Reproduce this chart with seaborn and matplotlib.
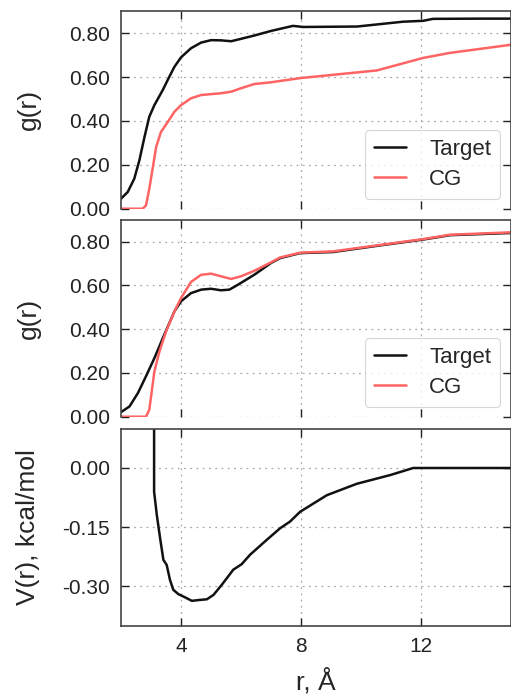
import numpy as np
import pandas as pd
import matplotlib
matplotlib.use("Agg")
import matplotlib.pyplot as plt
import seaborn as sns
from matplotlib.ticker import FormatStrFormatter

# ---- data ----
r_t1 = [2.0, 2.22, 2.44, 2.61, 2.78, 2.94, 3.11, 3.39, 3.61, 3.78, 4.0, 4.33, 4.67, 5.0, 5.33, 5.67,
        6.0, 6.44, 7.0, 7.73, 8.07, 9.87, 11.4, 12.07, 12.4, 14.07, 15.0]
g_t1 = [0.046, 0.076, 0.137, 0.221, 0.327, 0.419, 0.472, 0.541, 0.602, 0.647, 0.690, 0.731, 0.757, 0.768,
        0.767, 0.763, 0.774, 0.789, 0.810, 0.833, 0.828, 0.83, 0.852, 0.856, 0.865, 0.866, 0.866]
r_c1 = [2.0, 2.72, 2.83, 2.94, 3.06, 3.17, 3.33, 3.56, 3.78, 4.0, 4.33, 4.67, 5.33, 5.67, 6.0, 6.44,
        7.0, 7.97, 10.53, 12.07, 12.97, 15.0]
g_c1 = [0.0, 0.0, 0.015, 0.091, 0.19, 0.282, 0.35, 0.396, 0.442, 0.472, 0.503, 0.518, 0.526, 0.533, 0.549,
        0.568, 0.576, 0.595, 0.63, 0.687, 0.71, 0.747]

r_t2 = [2.0, 2.28, 2.56, 2.83, 3.11, 3.44, 3.78, 4.0, 4.33, 4.67, 5.0, 5.33, 5.61, 5.89, 6.44, 7.0,
        7.3, 7.97, 9.07, 10.73, 12.07, 12.97, 15.0]
g_t2 = [0.021, 0.047, 0.108, 0.185, 0.268, 0.375, 0.482, 0.528, 0.565, 0.581, 0.585, 0.578, 0.581, 0.603,
        0.649, 0.703, 0.725, 0.748, 0.753, 0.785, 0.81, 0.83, 0.84]
r_c2 = [2.0, 2.83, 2.94, 3.11, 3.28, 3.5, 3.78, 4.0, 4.33, 4.67, 5.0, 5.33, 5.67, 6.0, 6.44, 7.0,
        7.3, 7.97, 9.07, 10.73, 12.07, 12.97, 15.0]
g_c2 = [0.0, 0.0, 0.032, 0.207, 0.299, 0.39, 0.482, 0.543, 0.616, 0.649, 0.654, 0.642, 0.63, 0.642, 0.667,
        0.706, 0.728, 0.75, 0.756, 0.787, 0.812, 0.832, 0.843]

r_v = [3.1, 3.1, 3.19, 3.30, 3.41, 3.52, 3.63, 3.74, 3.91, 4.13, 4.36, 4.58, 4.86, 5.08, 5.36, 5.74,
       6.02, 6.3, 6.86, 7.3, 7.63, 7.97, 8.86, 9.86, 10.97, 11.74, 12.5, 13.5, 15.0]
v_v = [0.1, -0.060, -0.119, -0.178, -0.233, -0.246, -0.284, -0.309, -0.320, -0.328, -0.337, -0.335, -0.333,
       -0.322, -0.296, -0.258, -0.244, -0.220, -0.182, -0.153, -0.136, -0.111, -0.069, -0.04, -0.018, 0.0,
       0.0, 0.0, 0.0]

series_labels = ["Target", "CG"]
x_ticks = [4, 8, 12]
g_ticks = [0.0, 0.2, 0.4, 0.6, 0.8]
v_ticks = [0.0, -0.15, -0.30]

colors = {"Target": "#111111", "CG": "#ff6464"}

sns.set_style("ticks")
plt.rcParams["font.family"] = ["Liberation Sans", "DejaVu Sans"]

fig = plt.figure(figsize=(5.11, 6.98), dpi=100)
L, R = 0.237, 1.0
ax1 = fig.add_axes([L, 0.701, R - L, 0.984 - 0.701])
ax2 = fig.add_axes([L, 0.403, R - L, 0.685 - 0.403])
ax3 = fig.add_axes([L, 0.1036, R - L, 0.386 - 0.1036])


def make_df(rt, gt, rc, gc):
    return pd.concat([
        pd.DataFrame({"r": rt, "g": gt, "s": series_labels[0]}),
        pd.DataFrame({"r": rc, "g": gc, "s": series_labels[1]}),
    ])


for ax, df in [(ax1, make_df(r_t1, g_t1, r_c1, g_c1)), (ax2, make_df(r_t2, g_t2, r_c2, g_c2))]:
    sns.lineplot(data=df, x="r", y="g", hue="s", palette=colors, ax=ax, lw=1.8, sort=False,
                 estimator=None)
    ax.set_ylim(0, 0.9)
    ax.set_yticks(g_ticks)
    ax.yaxis.set_major_formatter(FormatStrFormatter("%.2f"))
    ax.set_ylabel("g(r)", fontsize=19)
    ax.yaxis.set_label_coords(-0.207, 0.5)
    ax.set_xlabel("")
    ax.tick_params(labelbottom=False)
    ax.spines["bottom"].set_visible(False)
    leg = ax.legend(loc="lower right", bbox_to_anchor=(0.972, 0.05), borderaxespad=0, fontsize=16,
                    frameon=True, handlelength=1.45, borderpad=0.4, labelspacing=0.4,
                    handletextpad=1.05)
    leg.get_frame().set_edgecolor("#cccccc")
    leg.get_frame().set_linewidth(0.8)
    for line in leg.get_lines():
        line.set_linewidth(1.8)

dfv = pd.DataFrame({"r": r_v, "v": v_v})
sns.lineplot(data=dfv, x="r", y="v", color="#111111", ax=ax3, lw=1.8, sort=False, estimator=None)
ax3.set_ylim(-0.4, 0.1)
ax3.set_yticks(v_ticks)
ax3.yaxis.set_major_formatter(FormatStrFormatter("%.2f"))
ax3.set_ylabel("V(r), kcal/mol", fontsize=19)
ax3.yaxis.set_label_coords(-0.207, 0.5)
ax3.set_xlabel("r, Å", fontsize=19, labelpad=9)

for ax in (ax1, ax2, ax3):
    ax.set_xlim(2, 15)
    ax.set_xticks(x_ticks)
    ax.grid(True, color="#aaaaaa", linestyle=(0, (1.5, 3.5)), linewidth=0.9)
    ax.tick_params(direction="in", top=True, right=True, length=6, width=1, labelsize=15,
                   colors="#222222", pad=8)
    for sp in ax.spines.values():
        sp.set_color("#444444")
        sp.set_linewidth(1.2)

fig.savefig("out.png", dpi=100)
